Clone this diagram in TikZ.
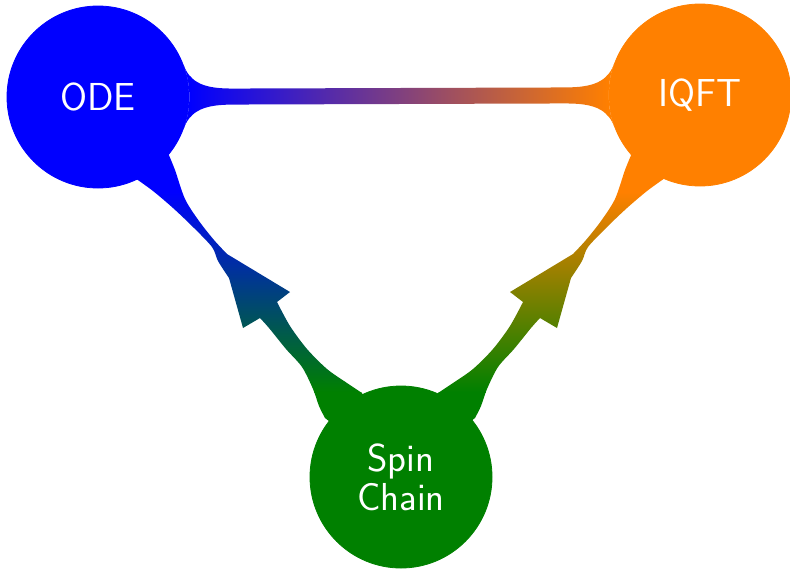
\documentclass[tikz,border=0pt]{standalone}
\usetikzlibrary{mindmap,backgrounds}
\definecolor{leafgreen}{RGB}{0,128,0}
% outline of a curved arrow-bar running from the lower concept up to the left one
\newcommand{\arrowbaroutline}{%
  (98,97) -- (168,153)
  -- plot[smooth] coordinates {(168,153) (175,170) (185,199) (199,221) (214,240) (227,254)}
  -- (290,292) -- (277,302)
  -- plot[smooth] coordinates {(277,302) (290,326) (307,349) (327,369) (347,383) (362,393)}
  -- (401,477) -- (325,418)
  -- plot[smooth] coordinates {(325,418) (319,406) (313,389) (302,367) (286,349) (269,328) (260,318)}
  -- (243,328) -- (229,278)
  -- plot[smooth] coordinates {(229,278) (218,261) (212,247) (193,227) (173,208) (153,191) (135,178)}
  -- cycle}
\newcommand{\arrowbarfill}[2]{%
  \begin{scope}
    \clip \arrowbaroutline;
    \fill[#1] (0,0) rectangle (400,192);
    \shade[top color=#1, bottom color=#2] (0,192) rectangle (400,392);
    \fill[#2] (0,392) rectangle (400,568);
  \end{scope}}
\begin{document}
\begin{tikzpicture}[x=0.5pt,y=-0.5pt,
  bubble/.style={concept, circle, minimum size=91pt, text width=80pt, align=center,
    text=white, font=\sffamily\fontsize{19.5}{19.5}\selectfont, inner sep=0pt}]
\useasboundingbox (0,0) rectangle (790,568);
% the three concepts
\node[bubble, concept color=blue] (ode) at (98,97) {ODE};
\node[bubble, concept color=orange] (iqft) at (700,95) {IQFT};
\node[bubble, concept color=leafgreen] (sc) at (401,477) {Spin\\Chain};
% straight bar between the two upper concepts
\path (ode) to[circle connection bar switch color=from (blue) to (orange)] (iqft);
% curved arrow-bars from the lower concept to the upper ones
\begin{scope}[on background layer]
  \arrowbarfill{blue}{leafgreen}
  \begin{scope}[shift={(800,0)}, xscale=-1]
    \arrowbarfill{orange}{leafgreen}
  \end{scope}
\end{scope}
\end{tikzpicture}
\end{document}
